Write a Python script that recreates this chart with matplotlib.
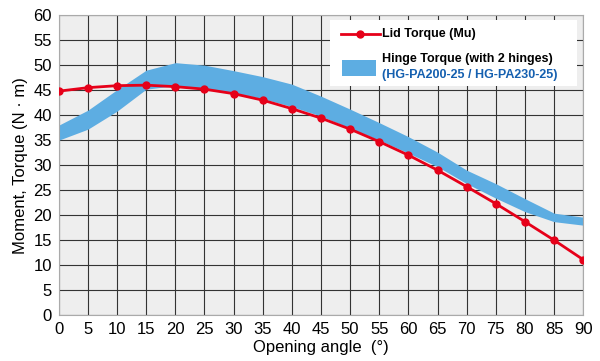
import matplotlib
matplotlib.use("Agg")
import matplotlib.pyplot as plt
from matplotlib.lines import Line2D
from matplotlib.patches import Rectangle

plt.rcParams['font.family'] = ['Liberation Sans', 'DejaVu Sans']

# opening angle (deg)
angles = [0, 5, 10, 15, 20, 25, 30, 35, 40, 45, 50, 55, 60, 65, 70, 75, 80, 85, 90]

# lid torque Mu (N·m)
lid_torque = [44.8, 45.5, 45.9, 46.0, 45.7, 45.2, 44.3, 43.0, 41.3, 39.4,
              37.2, 34.7, 32.0, 29.0, 25.7, 22.3, 18.7, 15.0, 11.1]

# hinge torque band (2 hinges), lower / upper edge
hinge_low = [35.0, 37.2, 40.8, 45.2, 45.9, 45.3, 44.5, 43.3, 41.7, 39.8,
             37.4, 35.0, 32.4, 29.7, 26.3, 23.4, 20.7, 18.7, 18.0]
hinge_high = [38.0, 41.0, 45.1, 49.0, 50.5, 50.0, 48.9, 47.7, 46.2, 43.8,
              41.2, 38.5, 35.7, 32.6, 29.0, 26.3, 23.3, 20.4, 19.6]

x_ticks = list(range(0, 91, 5))
y_ticks = list(range(0, 61, 5))

red = '#e60019'
blue = '#5dade2'
W, H = 600, 361


def fx(px):
    return px / W


def fy(py):
    return 1 - py / H


fig = plt.figure(figsize=(6, 3.61), dpi=100)
ax = fig.add_axes([0.098, 0.127, 0.874, 0.831])
ax.set_facecolor('#eeeeee')

ax.fill_between(angles, hinge_low, hinge_high, color=blue, lw=0, zorder=2)
ax.plot(angles, lid_torque, color=red, lw=2, marker='o', ms=5, zorder=3)

ax.set_xlim(0, 90)
ax.set_ylim(0, 60)
ax.set_xticks(x_ticks)
ax.set_yticks(y_ticks)
ax.grid(True, color='#333333', lw=0.8, zorder=1)
ax.set_axisbelow(True)
ax.tick_params(length=0, labelsize=12, pad=5)
for s in ax.spines.values():
    s.set_color('#aaaaaa')

ax.set_xlabel('Opening angle  (°)', fontsize=12, labelpad=2)
ax.set_ylabel('Moment, Torque (N · m)', fontsize=12, labelpad=4)

# legend box, drawn by hand
fig.add_artist(Rectangle((fx(330), fy(86)), fx(577) - fx(330), fy(20) - fy(86),
                         transform=fig.transFigure, facecolor='white',
                         edgecolor='none', zorder=5))
fig.add_artist(Line2D([fx(341), fx(380)], [fy(34), fy(34)], color=red, lw=2,
                      transform=fig.transFigure, zorder=6))
fig.add_artist(Line2D([fx(360)], [fy(34)], color=red, marker='o', ms=5,
                      transform=fig.transFigure, zorder=6))
fig.text(fx(382), fy(34), 'Lid Torque (Mu)', fontsize=9, fontweight='bold',
         va='center', zorder=7)
fig.add_artist(Rectangle((fx(342), fy(76)), fx(376) - fx(342), fy(60) - fy(76),
                         transform=fig.transFigure, facecolor=blue,
                         edgecolor='none', zorder=6))
fig.text(fx(382), fy(59), 'Hinge Torque (with 2 hinges)', fontsize=9,
         fontweight='bold', va='center', zorder=7)
fig.text(fx(382), fy(75), '(HG-PA200-25 / HG-PA230-25)', fontsize=9,
         fontweight='bold', color='#1560b0', va='center', zorder=7)

fig.savefig('out.png', dpi=100)
